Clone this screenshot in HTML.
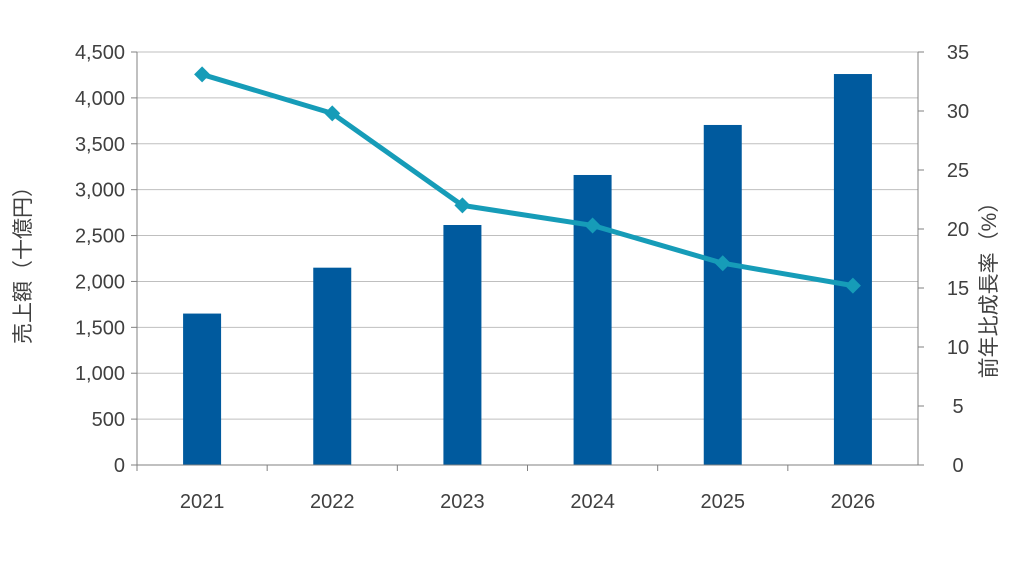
<!DOCTYPE html>
<html><head><meta charset="utf-8">
<style>
html,body{margin:0;padding:0;background:#fff;}
svg{display:block;font-family:"Liberation Sans","Noto Sans CJK JP",sans-serif;}
</style></head>
<body>
<svg id="chart" width="1024" height="576" viewBox="0 0 1024 576" xmlns="http://www.w3.org/2000/svg">
<g id="grid"></g>
<g id="bars"></g>
<g id="line"></g>
<g id="axes"></g>
<text transform="translate(30,260) rotate(-90)" text-anchor="middle" font-size="21" fill="#404040">売上額（十億円）</text>
<text transform="translate(996,285) rotate(-90)" text-anchor="middle" font-size="21" fill="#404040">前年比成長率（%）</text>
</svg>
<script>
const categories = ["2021","2022","2023","2024","2025","2026"];
const salesValues = [1650, 2150, 2615, 3160, 3705, 4260];
const growthValues = [33.1, 29.8, 22.0, 20.3, 17.1, 15.2];
const leftTicks = [0,500,1000,1500,2000,2500,3000,3500,4000,4500];
const rightTicks = [0,5,10,15,20,25,30,35];

const NS="http://www.w3.org/2000/svg";
const L=137,R=918,T=52,B=465;
const yL=v=>B-(v/4500)*(B-T);
const yR=v=>B-(v/35)*(B-T);
const bw=(R-L)/categories.length;
const xC=i=>L+bw*(i+0.5);
function mk(tag,attrs,parent){const e=document.createElementNS(NS,tag);for(const k in attrs)e.setAttribute(k,attrs[k]);parent.appendChild(e);return e;}
const grid=document.getElementById('grid'),bars=document.getElementById('bars'),line=document.getElementById('line'),axes=document.getElementById('axes');
leftTicks.forEach(t=>{
  if(t>0){const g=mk('line',{x1:L,x2:R,y1:yL(t),y2:yL(t),stroke:'#bfbfbf','stroke-width':1},grid);
  
  }
  const tx=mk('text',{x:L-12,y:yL(t)+7,'text-anchor':'end','font-size':20,fill:'#404040'},axes);
  tx.textContent=t.toLocaleString('en-US');
  
  
  const tk=mk('line',{x1:L-6,x2:L,y1:yL(t),y2:yL(t),stroke:'#808080'},axes);
  
  
});
rightTicks.forEach(t=>{
  const tx=mk('text',{x:R+40,y:yR(t)+7,'text-anchor':'middle','font-size':20,fill:'#404040'},axes);
  tx.textContent=t;
  
  
  const tk=mk('line',{x1:R,x2:R+6,y1:yR(t),y2:yR(t),stroke:'#808080'},axes);
  
  
});
const ax1=mk('line',{x1:L,x2:L,y1:T,y2:B,stroke:'#808080'},axes);


const ax2=mk('line',{x1:R,x2:R,y1:T,y2:B,stroke:'#808080'},axes);


const ax3=mk('line',{x1:L,x2:R,y1:B,y2:B,stroke:'#808080'},axes);


categories.forEach((c,i)=>{
  const tk=mk('line',{x1:L+bw*i,x2:L+bw*i,y1:B,y2:B+6,stroke:'#808080'},axes);
  
  
  const tx=mk('text',{x:xC(i),y:B+43,'text-anchor':'middle','font-size':20,fill:'#404040'},axes);
  tx.textContent=c;
  
  
  const r=mk('rect',{x:xC(i)-19,y:yL(salesValues[i]),width:38,height:B-yL(salesValues[i]),fill:'#005a9e'},bars);
  
  
});
const pts=growthValues.map((v,i)=>xC(i)+','+yR(v)).join(' ');
const pl=mk('polyline',{points:pts,fill:'none',stroke:'#169cb8','stroke-width':5,'stroke-linejoin':'round'},line);


growthValues.forEach((v,i)=>{
  const x=xC(i),y=yR(v);
  const m=mk('polygon',{points:`${x},${y-8} ${x+8},${y} ${x},${y+8} ${x-8},${y}`,fill:'#169cb8'},line);
  
  
});
</script>
</body></html>
